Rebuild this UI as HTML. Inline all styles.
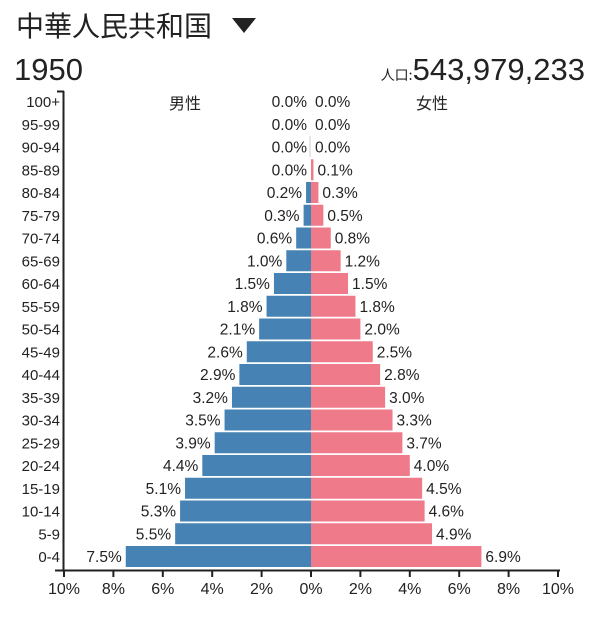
<!DOCTYPE html>
<html><head><meta charset="utf-8"><style>
body{margin:0;background:#fff;width:600px;height:612px;overflow:hidden}
svg text{font-family:"Liberation Sans","Noto Sans CJK JP",sans-serif;fill:#222}
</style></head><body>
<svg width="600" height="612" xmlns="http://www.w3.org/2000/svg">
<text x="16" y="36" font-size="28" font-family="Noto Sans CJK JP">中華人民共和国</text>
<polygon points="232,18 256,18 244,33" fill="#222"/>
<text x="14" y="80" font-size="31">1950</text>
<text x="585" y="80" font-size="31" text-anchor="end"><tspan font-size="14" font-family="Noto Sans CJK JP">人口:</tspan>543,979,233</text>
<text x="185" y="109" font-size="16" text-anchor="middle" font-family="Noto Sans CJK JP">男性</text>
<text x="432" y="109" font-size="16" text-anchor="middle" font-family="Noto Sans CJK JP">女性</text>
<g id="g"></g>
<line x1="63.5" y1="91" x2="63.5" y2="571" stroke="#222" stroke-width="2"/>
<line x1="57" y1="91.5" x2="64" y2="91.5" stroke="#222" stroke-width="2"/>
<line x1="55" y1="570.5" x2="560" y2="570.5" stroke="#222" stroke-width="2"/>
</svg>
<script>
const d=[["100+",0,0],["95-99",0,0],["90-94",0,0],["85-89",0,0.1],["80-84",0.2,0.3],["75-79",0.3,0.5],["70-74",0.6,0.8],["65-69",1.0,1.2],["60-64",1.5,1.5],["55-59",1.8,1.8],["50-54",2.1,2.0],["45-49",2.6,2.5],["40-44",2.9,2.8],["35-39",3.2,3.0],["30-34",3.5,3.3],["25-29",3.9,3.7],["20-24",4.4,4.0],["15-19",5.1,4.5],["10-14",5.3,4.6],["5-9",5.5,4.9],["0-4",7.5,6.9]];
const c=311,s=24.7;let h='';
d.forEach((r,i)=>{const t=91+i*22.75,cy=t+10.5+5.5;
const mw=r[1]*s,fw=r[2]*s;
h+=`<text x="60" y="${cy}" font-size="15" text-anchor="end">${r[0]}</text>`;
if(mw>0)h+=`<rect x="${c-mw}" y="${t}" width="${mw}" height="21" fill="#4682b4"/>`;
if(fw>0)h+=`<rect x="${c}" y="${t}" width="${fw}" height="21" fill="#ef7b8a"/>`;
h+=`<text x="${c-mw-4}" y="${cy}" font-size="15.5" text-anchor="end">${r[1].toFixed(1)}%</text>`;
h+=`<text x="${c+fw+4}" y="${cy}" font-size="15.5">${r[2].toFixed(1)}%</text>`;});
h+=`<line x1="310" y1="136" x2="310" y2="157" stroke="#ccc" stroke-width="1"/>`;
[10,8,6,4,2,0,2,4,6,8,10].forEach((v,k)=>{const x=64+k*2*s;
h+=`<line x1="${x}" y1="570" x2="${x}" y2="577" stroke="#222" stroke-width="2"/>`;
h+=`<text x="${x}" y="594" font-size="16" text-anchor="middle">${v}%</text>`;});
document.getElementById('g').innerHTML=h;
</script>
</body></html>
